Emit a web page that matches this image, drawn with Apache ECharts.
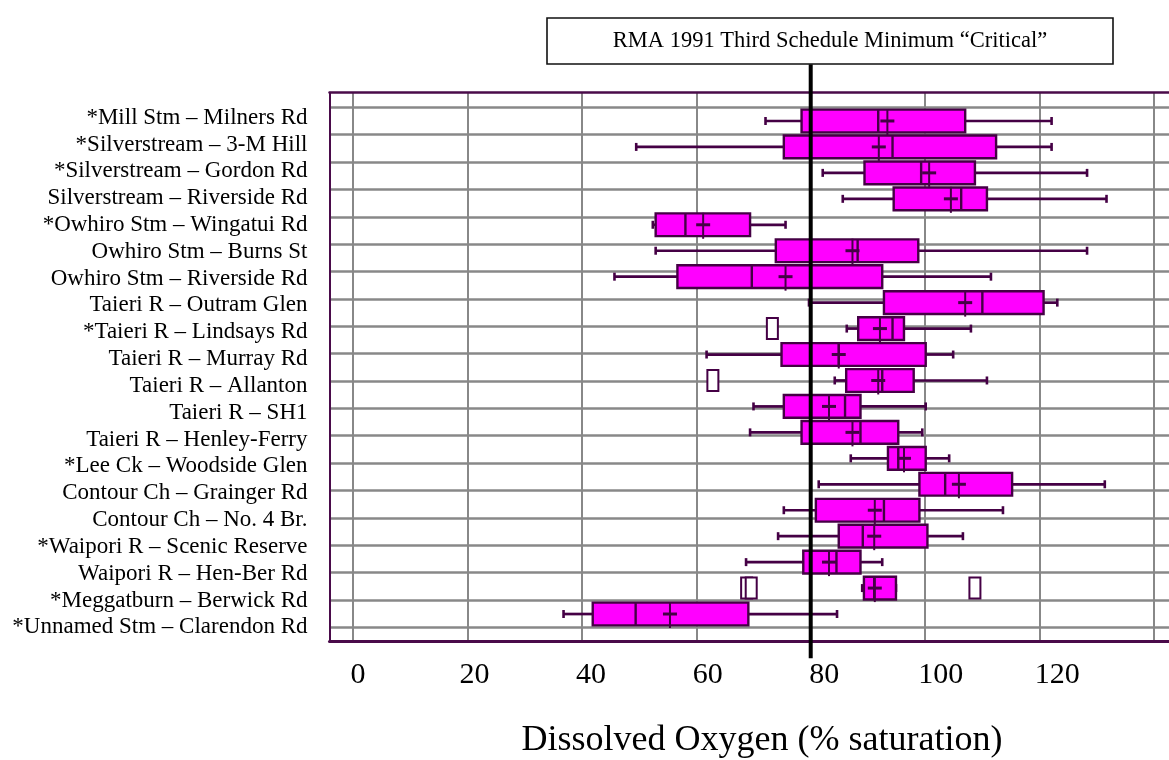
<!DOCTYPE html>
<html>
<head>
<meta charset="utf-8">
<script src="https://cdn.jsdelivr.net/npm/echarts@6/dist/echarts.min.js"></script>
<style>
  html, body { margin: 0; padding: 0; background: #ffffff; }
  #chart { width: 1169px; height: 760px; }
</style>
</head>
<body>
<div id="chart"></div>
<script>
// Monitoring sites, listed top to bottom
const sites = [
  '*Mill Stm \u2013 Milners Rd',
  '*Silverstream \u2013 3-M Hill',
  '*Silverstream \u2013 Gordon Rd',
  'Silverstream \u2013 Riverside Rd',
  '*Owhiro Stm \u2013 Wingatui Rd',
  'Owhiro Stm \u2013 Burns St',
  'Owhiro Stm \u2013 Riverside Rd',
  'Taieri R \u2013 Outram Glen',
  '*Taieri R \u2013 Lindsays Rd',
  'Taieri R \u2013 Murray Rd',
  'Taieri R \u2013 Allanton',
  'Taieri R \u2013 SH1',
  'Taieri R \u2013 Henley-Ferry',
  '*Lee Ck \u2013 Woodside Glen',
  'Contour Ch \u2013 Grainger Rd',
  'Contour Ch \u2013 No. 4 Br.',
  '*Waipori R \u2013 Scenic Reserve',
  'Waipori R \u2013 Hen-Ber Rd',
  '*Meggatburn \u2013 Berwick Rd',
  '*Unnamed Stm \u2013 Clarendon Rd'
];

// Dissolved oxygen (% saturation) summary per site
const whiskerLow  = [72.1, 49.5, 82.1, 85.6, 52.4, 52.9, 45.7, 79.7, 86.3, 61.8, 84.2, 70.0, 69.4, 87.0, 81.4, 75.3, 74.3, 68.7, 89.0, 36.8];
const quartile1   = [78.4, 75.3, 89.4, 94.5, 52.9, 73.9, 56.7, 92.8, 88.3, 74.9, 86.2, 75.3, 78.4, 93.5, 99.0, 80.9, 84.9, 78.7, 89.3, 41.9];
const median      = [91.8, 94.3, 99.3, 106.3, 58.1, 88.2, 69.7, 110.0, 94.3, 84.9, 92.5, 86.0, 88.7, 95.3, 103.5, 92.8, 89.1, 84.5, 91.1, 49.4];
const quartile3   = [107.0, 112.4, 108.7, 110.8, 69.4, 98.8, 92.5, 120.7, 96.3, 100.1, 98.0, 88.7, 95.3, 100.1, 115.2, 99.0, 100.4, 88.7, 94.9, 69.1];
const whiskerHigh = [122.1, 122.1, 128.3, 131.7, 75.6, 128.3, 111.5, 123.1, 108.0, 104.9, 110.8, 100.1, 99.5, 104.2, 131.4, 113.6, 106.6, 92.5, 94.9, 84.6];
const mean        = [93.4, 91.9, 100.7, 104.5, 61.2, 87.3, 75.6, 107.0, 92.1, 84.9, 91.8, 83.2, 87.3, 96.3, 105.9, 91.2, 91.1, 83.2, 91.2, 55.4];

// Outlying values: [site index, value]
const outliers = [[8, 73.3], [10, 62.9], [18, 68.8], [18, 69.6], [18, 108.7]];

// RMA 1991 Third Schedule minimum
const criticalLevel = 80;

// Tick labels on the horizontal axis
const tickValues = [0, 20, 40, 60, 80, 100, 120];

const SERIF = '"Liberation Serif", "Times New Roman", serif';
const FRAME = '#4a0b4a';
const EDGE = '#450045';
const GRIDC = '#888888';

const boxRows = sites.map((s, i) => [i, whiskerLow[i], quartile1[i], median[i], quartile3[i], whiskerHigh[i], mean[i]]);

function renderBox(params, api) {
  const row = api.value(0);
  const lo = api.coord([api.value(1), row]);
  const b1 = api.coord([api.value(2), row]);
  const md = api.coord([api.value(3), row]);
  const b3 = api.coord([api.value(4), row]);
  const hi = api.coord([api.value(5), row]);
  const mn = api.coord([api.value(6), row]);
  const band = api.size([0, 1])[1];
  const h = band * 0.875;
  const cy = lo[1];
  const line = (x1, y1, x2, y2, w) => ({
    type: 'line', shape: { x1, y1, x2, y2 }, style: { stroke: EDGE, lineWidth: w }
  });
  return {
    type: 'group',
    children: [
      line(lo[0], cy, b1[0], cy, 2.7),
      line(b3[0], cy, hi[0], cy, 2.7),
      line(lo[0], cy - 4, lo[0], cy + 4, 2.6),
      line(hi[0], cy - 4, hi[0], cy + 4, 2.6),
      {
        type: 'rect',
        shape: { x: b1[0], y: cy - h / 2, width: b3[0] - b1[0], height: h },
        style: { fill: '#ff00ff', stroke: EDGE, lineWidth: 2.4 }
      },
      line(md[0], cy - h / 2, md[0], cy + h / 2, 2.4),
      line(mn[0] - 7, cy, mn[0] + 7, cy, 3),
      line(mn[0], cy - 12, mn[0], cy + 14, 2)
    ]
  };
}

function renderOutlier(params, api) {
  const p = api.coord([api.value(1), api.value(0)]);
  return {
    type: 'rect',
    shape: { x: p[0] - 5.5, y: p[1] - 10.5, width: 11, height: 21 },
    style: { fill: '#ffffff', stroke: EDGE, lineWidth: 2 }
  };
}

const hidden = { show: false };
const chart = echarts.init(document.getElementById('chart'), null, { renderer: 'canvas' });

chart.setOption({
  animation: false,
  backgroundColor: '#ffffff',
  title: {
    text: 'Dissolved Oxygen (% saturation)',
    left: 762,
    top: 723,
    padding: 0,
    textAlign: 'center',
    textStyle: { fontFamily: SERIF, fontSize: 36, fontWeight: 'normal', color: '#000000' }
  },
  graphic: [
    {
      type: 'rect',
      shape: { x: 547, y: 18, width: 566, height: 46 },
      style: { fill: '#ffffff', stroke: '#111111', lineWidth: 1.6 },
      z: 10
    },
    {
      type: 'text',
      x: 830, y: 41,
      style: {
        text: 'RMA 1991 Third Schedule Minimum \u201cCritical\u201d',
        fontFamily: SERIF, fontSize: 22.5, fill: '#000000',
        align: 'center', verticalAlign: 'middle'
      },
      z: 11
    }
  ],
  grid: [
    // 0: plot frame
    { left: 329.5, top: 92.7, width: 900, height: 549 },
    // 1: horizontal grid lines
    { left: 329.5, top: 107.3, width: 900, height: 520 },
    // 2: vertical grid lines
    { left: 353, top: 92.7, width: 801, height: 549 },
    // 3: box plots
    { left: 353, top: 108, width: 801, height: 519 },
    // 4: critical level line
    { left: 353, top: 64.3, width: 801, height: 594 },
    // 5: site labels
    { left: 329.5, top: 104.3, width: 10, height: 536.4 },
    // 6: tick labels
    { left: 358, top: 600, width: 699.3, height: 41.7 }
  ],
  xAxis: [
    { gridIndex: 0, type: 'value', min: 0, max: 1, position: 'bottom',
      axisLine: { show: true, onZero: false, lineStyle: { color: FRAME, width: 3 } },
      axisTick: hidden, axisLabel: hidden, splitLine: hidden },
    { gridIndex: 0, type: 'value', min: 0, max: 1, position: 'top',
      axisLine: { show: true, onZero: false, lineStyle: { color: FRAME, width: 2.5 } },
      axisTick: hidden, axisLabel: hidden, splitLine: hidden },
    { gridIndex: 1, type: 'value', min: 0, max: 1, show: false },
    { gridIndex: 2, type: 'value', min: 0, max: 140, interval: 20,
      axisLine: hidden, axisTick: hidden, axisLabel: hidden,
      splitLine: { show: true, lineStyle: { color: GRIDC, width: 2 } } },
    { gridIndex: 3, type: 'value', min: 0, max: 140, show: false },
    { gridIndex: 4, type: 'value', min: 0, max: 140, show: false },
    { gridIndex: 5, type: 'value', min: 0, max: 1, show: false },
    { gridIndex: 6, type: 'value', min: 0, max: 120, interval: 20,
      axisLine: hidden, axisTick: hidden, splitLine: hidden,
      axisLabel: {
        show: true, margin: 18, color: '#000000', fontFamily: SERIF, fontSize: 30,
        formatter: v => (tickValues.indexOf(v) >= 0 ? String(v) : '')
      } }
  ],
  yAxis: [
    { gridIndex: 0, type: 'value', min: 0, max: 1,
      axisLine: { show: true, onZero: false, lineStyle: { color: FRAME, width: 2 } },
      axisTick: hidden, axisLabel: hidden, splitLine: hidden },
    { gridIndex: 1, type: 'value', min: 0, max: 19, interval: 1,
      axisLine: hidden, axisTick: hidden, axisLabel: hidden,
      splitLine: { show: true, lineStyle: { color: GRIDC, width: 2.6 } } },
    { gridIndex: 2, type: 'value', min: 0, max: 1, show: false },
    { gridIndex: 3, type: 'category', data: sites, inverse: true, show: false },
    { gridIndex: 4, type: 'value', min: 0, max: 1, show: false },
    { gridIndex: 5, type: 'category', data: sites, inverse: true,
      axisLine: hidden, axisTick: hidden, splitLine: hidden,
      axisLabel: { show: true, interval: 0, margin: 22, color: '#000000', fontFamily: SERIF, fontSize: 23 } },
    { gridIndex: 6, type: 'value', min: 0, max: 1, show: false }
  ],
  series: [
    {
      type: 'custom', name: 'DO box', xAxisIndex: 4, yAxisIndex: 3,
      renderItem: renderBox,
      encode: { x: [1, 2, 3, 4, 5, 6], y: 0 },
      data: boxRows, z: 3
    },
    {
      type: 'custom', name: 'Outliers', xAxisIndex: 4, yAxisIndex: 3,
      renderItem: renderOutlier,
      encode: { x: 1, y: 0 },
      data: outliers, z: 3
    },
    {
      type: 'line', name: 'Critical', xAxisIndex: 5, yAxisIndex: 4,
      data: [[criticalLevel, 0], [criticalLevel, 1]],
      showSymbol: false, symbol: 'none',
      lineStyle: { color: '#000000', width: 4 }, z: 8
    }
  ]
});
</script>
</body>
</html>
